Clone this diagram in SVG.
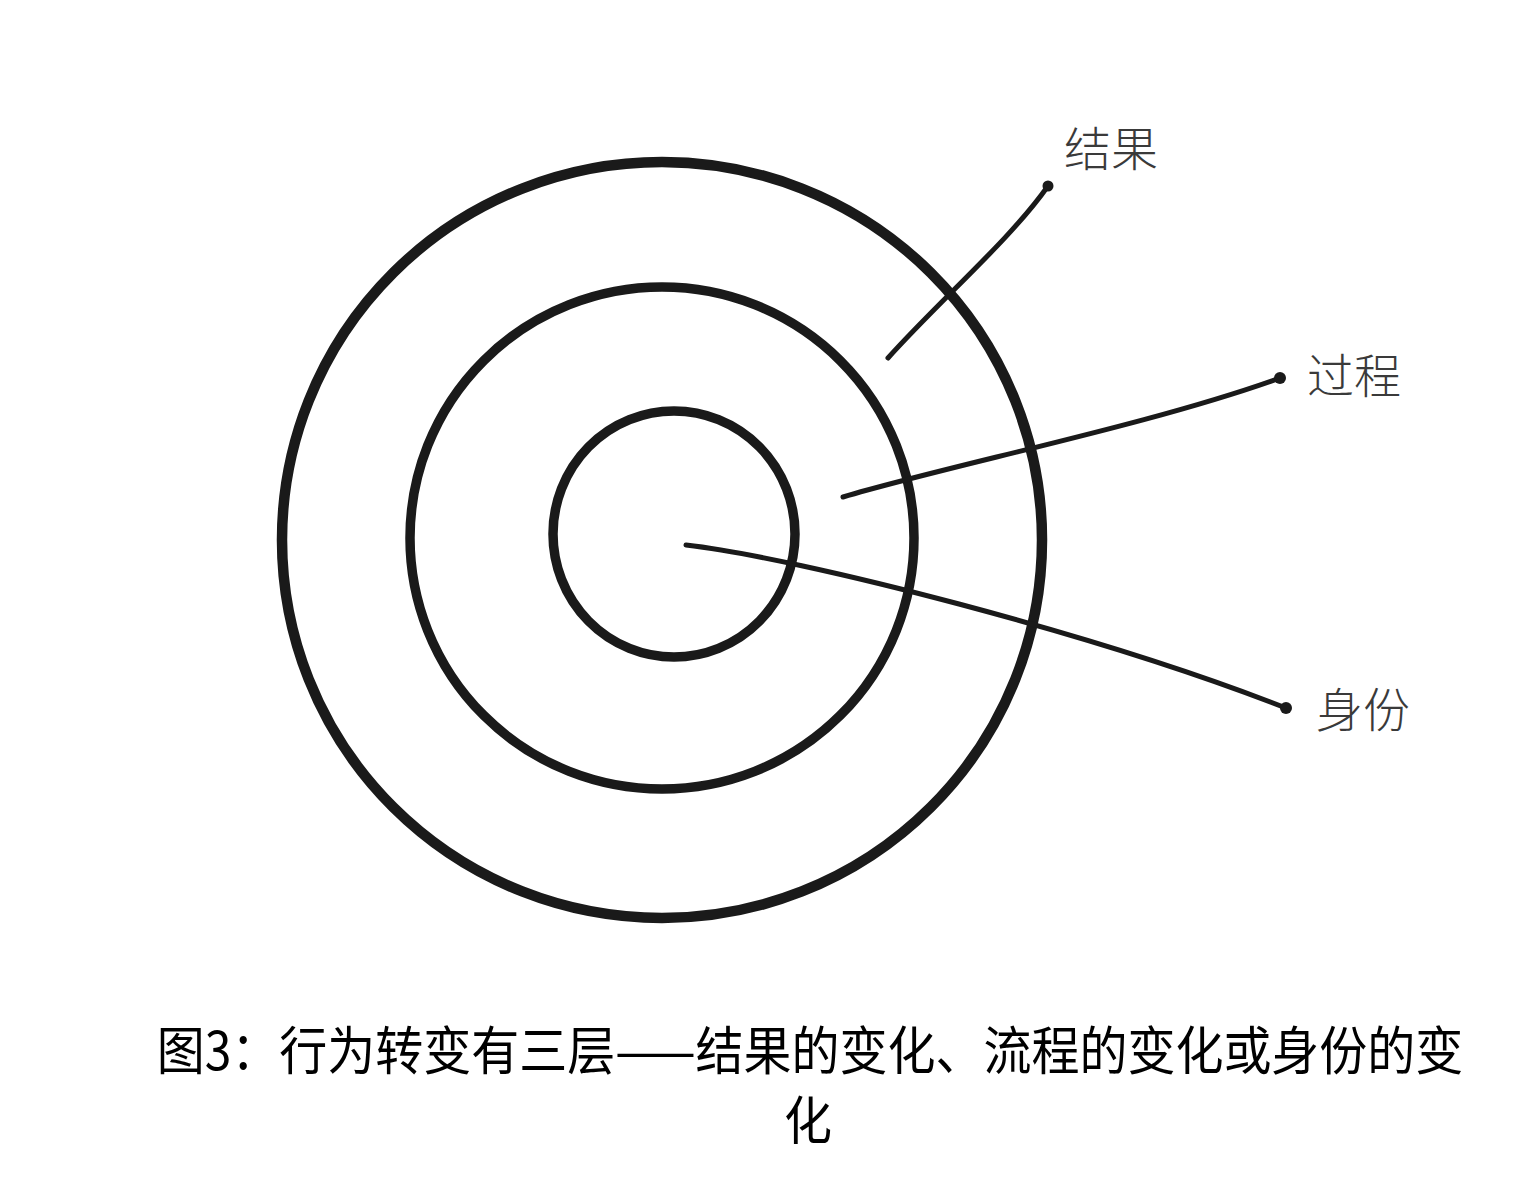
<svg xmlns="http://www.w3.org/2000/svg" width="1538" height="1190" viewBox="0 0 1538 1190">
<style>
.ring{fill:none;stroke:#1a1a1a}
.lead{fill:none;stroke:#1a1a1a;stroke-width:5;stroke-linecap:round}
.dot{fill:#1a1a1a}
.lbl{font-family:"Noto Sans CJK SC","Noto Sans",sans-serif;font-size:47px;fill:#3a3a3a;font-weight:300}
.cap{font-family:"Noto Sans CJK SC","Liberation Serif",serif;font-size:48px;fill:#000}
</style>
<rect width="1538" height="1190" fill="#fff"/>
<g id="outer-ring"><ellipse class="ring" cx="662" cy="540" rx="380" ry="378" stroke-width="10.5"/></g>
<g id="middle-ring"><ellipse class="ring" cx="662" cy="538" rx="252" ry="251" stroke-width="9.5"/></g>
<g id="inner-ring"><ellipse class="ring" cx="674" cy="534" rx="121" ry="123" stroke-width="9.5"/></g>
<g id="connectors">
<path class="lead" d="M888,358 C940,300 1010,240 1048,186"/>
<circle class="dot" cx="1048" cy="186" r="5.5"/>
<path class="lead" d="M843,497 C950,465 1150,425 1280,378"/>
<circle class="dot" cx="1280" cy="378" r="6"/>
<path class="lead" d="M686,545 C800,558 1100,635 1286,708"/>
<circle class="dot" cx="1286" cy="708" r="6"/>
</g>
<g id="label-result"><text class="lbl" x="1064" y="166">结果</text></g>
<g id="label-process"><text class="lbl" x="1307" y="393">过程</text></g>
<g id="label-identity"><text class="lbl" x="1316" y="727">身份</text></g>
<g id="caption">
<text class="cap" transform="translate(810,1070) scale(1,1.1)" text-anchor="middle">图3：行为转变有三层——结果的变化、流程的变化或身份的变</text>
<text class="cap" transform="translate(808,1140) scale(1,1.1)" text-anchor="middle">化</text>
</g>
</svg>
